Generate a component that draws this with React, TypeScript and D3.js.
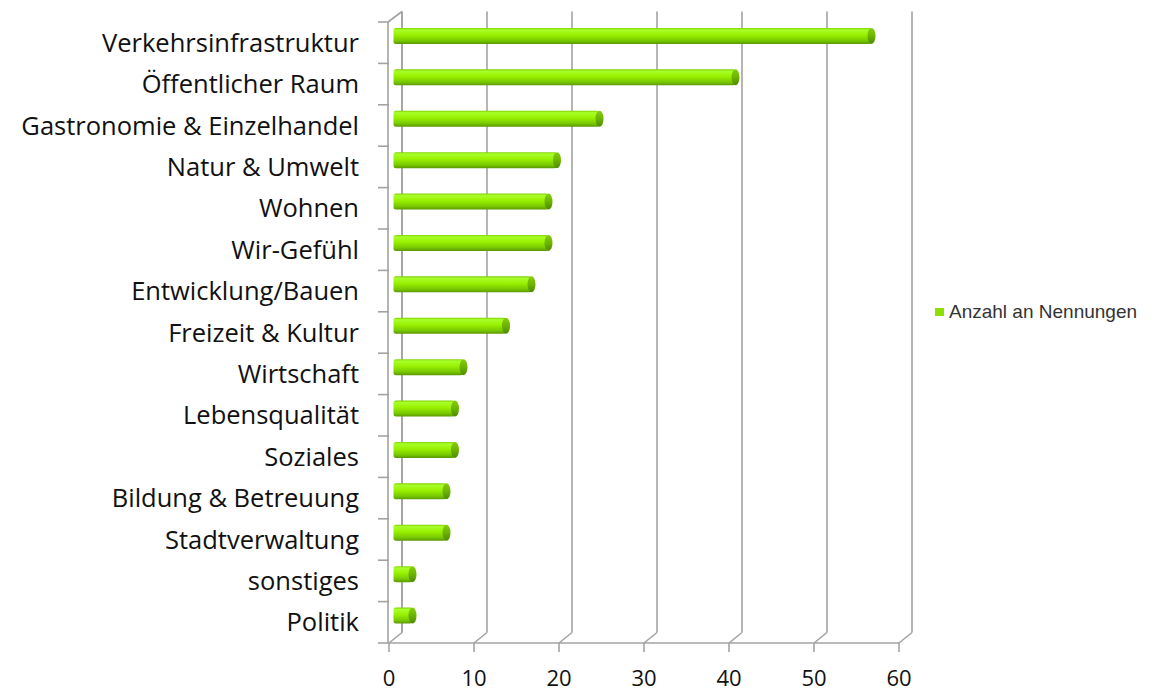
import * as d3 from "d3";
import React from "react";

const categories = [
  "Verkehrsinfrastruktur",
  "Öffentlicher Raum",
  "Gastronomie & Einzelhandel",
  "Natur & Umwelt",
  "Wohnen",
  "Wir-Gefühl",
  "Entwicklung/Bauen",
  "Freizeit & Kultur",
  "Wirtschaft",
  "Lebensqualität",
  "Soziales",
  "Bildung & Betreuung",
  "Stadtverwaltung",
  "sonstiges",
  "Politik",
];
const values = [56, 40, 24, 19, 18, 18, 16, 13, 8, 7, 7, 6, 6, 2, 2];
const xTicks = [0, 10, 20, 30, 40, 50, 60];
const seriesName = "Anzahl an Nennungen";

export default function App() {
  const svgWidth = 1156;
  const svgHeight = 693;
  // 3d depth offset of the back wall
  const dx = 13;
  const dy = -10.5;

  const x = d3.scaleLinear().domain([0, 60]).range([389, 899]);
  const y = d3.scaleBand().domain(categories).range([22, 643]);
  const bottom = 643;
  const top = 22;
  const barH = 16;
  const capRx = 4;

  const gridColor = "#a3a3a3";

  const grid = xTicks.map((t) => (
    <g key={t}>
      <line x1={x(t) + dx} x2={x(t) + dx} y1={top + dy} y2={bottom + dy} stroke={gridColor} strokeWidth="1.6" />
      <line x1={x(t)} x2={x(t) + dx} y1={bottom} y2={bottom + dy} stroke={gridColor} strokeWidth="1.6" />
      <line x1={x(t)} x2={x(t)} y1={bottom} y2={bottom + 9} stroke={gridColor} strokeWidth="1.6" />
      <text x={x(t)} y={686} textAnchor="middle" fontSize="22" fill="#111">{t}</text>
    </g>
  ));

  const catTicks = d3.range(categories.length + 1).map((i) => {
    const yy = top + i * y.step();
    return <line key={i} x1={378} x2={x(0)} y1={yy} y2={yy} stroke={gridColor} strokeWidth="1.6" />;
  });

  const labels = categories.map((c) => (
    <text key={c} x={359} y={(y(c) as number) + y.bandwidth() / 2 + 9} textAnchor="end" fontSize="25.5" fill="#111">{c}</text>
  ));

  const bars = categories.map((c, i) => {
    const cy = (y(c) as number) + y.bandwidth() / 2 + dy / 2 - 1.5;
    const x0 = x(0) + dx / 2;
    const x1 = x(values[i]) + dx / 2;
    return (
      <g key={c}>
        <rect x={x0 - 2} y={cy - barH / 2} width={x1 - x0 + 2} height={barH} rx={2.5} fill="url(#barGrad)" />
        <ellipse cx={x1} cy={cy} rx={capRx} ry={barH / 2} fill="url(#capGrad)" />
      </g>
    );
  });

  return (
    <div style={{ position: "absolute", left: 0, top: 0 }}>
      <svg width={svgWidth} height={svgHeight} style={{ display: "block", background: "#fff", fontFamily: "'Open Sans', sans-serif" }}>
        <defs>
          <linearGradient id="barGrad" x1="0" y1="0" x2="0" y2="1">
            <stop offset="0" stopColor="#7fd000" />
            <stop offset="0.12" stopColor="#a8ff2a" />
            <stop offset="0.45" stopColor="#98f000" />
            <stop offset="0.8" stopColor="#78c800" />
            <stop offset="1" stopColor="#5a9800" />
          </linearGradient>
          <linearGradient id="capGrad" x1="0" y1="0" x2="0" y2="1">
            <stop offset="0" stopColor="#86cc10" />
            <stop offset="0.5" stopColor="#6cb400" />
            <stop offset="1" stopColor="#4e8a00" />
          </linearGradient>
        </defs>
        {/* left wall */}
        <line x1={x(0) + dx} x2={x(0) + dx} y1={top + dy} y2={bottom + dy} stroke={gridColor} strokeWidth="1.6" />
        <line x1={x(0) - 1} x2={x(0) - 1} y1={top} y2={bottom} stroke={gridColor} strokeWidth="1.6" />
        <line x1={x(0) - 1} x2={x(0) + dx} y1={top} y2={top + dy} stroke={gridColor} strokeWidth="1.6" />
        <line x1={x(0)} x2={x(60)} y1={bottom} y2={bottom} stroke={gridColor} strokeWidth="1.6" />
        {grid}
        {catTicks}
        {bars}
        {labels}
        <rect x={935} y={308} width={9} height={8} fill="#8fe000" />
        <text x={949} y={318} fontSize="19" fill="#333" fontFamily="'Liberation Sans', Arial, sans-serif">{seriesName}</text>
      </svg>
    </div>
  );
}
